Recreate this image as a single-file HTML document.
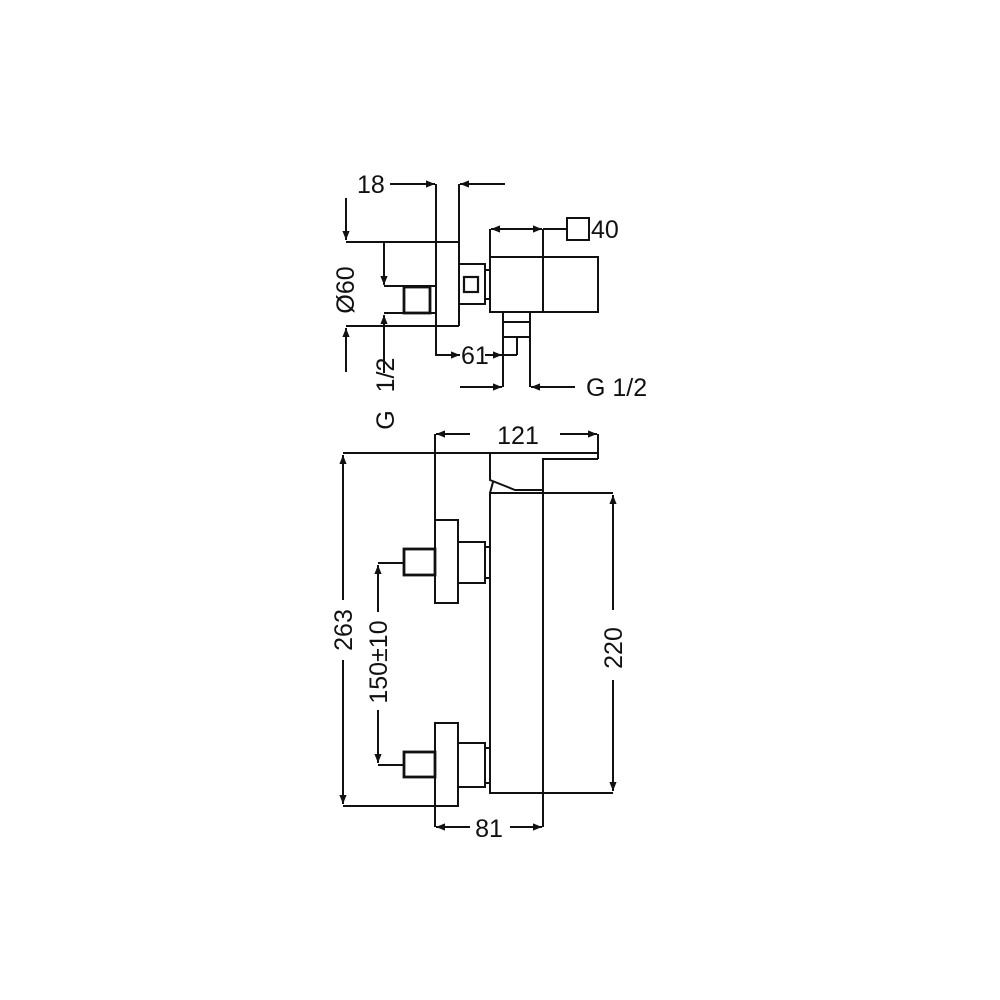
<!DOCTYPE html>
<html><head><style>html,body{margin:0;padding:0;background:#fff}svg{display:block}</style></head><body>
<svg width="1000" height="1000" viewBox="0 0 1000 1000" xmlns="http://www.w3.org/2000/svg">
<defs>
<marker id="a" viewBox="0 0 10 10" refX="10" refY="5" markerWidth="16" markerHeight="9" markerUnits="userSpaceOnUse" orient="auto-start-reverse"><path d="M0,1 L10,5 L0,9 Z" fill="#111"/></marker>
</defs>
<g stroke="#111" stroke-width="2" fill="none">
<!-- TOP VIEW -->
<line x1="390" y1="184" x2="435" y2="184" marker-end="url(#a)"/>
<line x1="505" y1="184" x2="460" y2="184" marker-end="url(#a)"/>
<polyline points="436,184 436,355 460,355"/>
<line x1="436" y1="355" x2="460" y2="355" marker-end="url(#a)"/>
<line x1="459" y1="184" x2="459" y2="326"/>
<line x1="346" y1="242" x2="459" y2="242"/>
<line x1="346" y1="326" x2="459" y2="326"/>
<line x1="346" y1="198" x2="346" y2="240" marker-end="url(#a)"/>
<line x1="346" y1="372" x2="346" y2="328" marker-end="url(#a)"/>
<line x1="384" y1="242" x2="384" y2="285" marker-end="url(#a)"/>
<line x1="384" y1="286" x2="436" y2="286"/>
<line x1="384" y1="313" x2="436" y2="313"/>
<line x1="384" y1="373" x2="384" y2="315" marker-end="url(#a)"/>
<rect x="404" y="287" width="26" height="26" stroke-width="2.8"/>
<rect x="459" y="264" width="26" height="40"/>
<rect x="464" y="277" width="14" height="15" stroke-width="2.2"/>
<rect x="485" y="270" width="5" height="29"/>
<rect x="490" y="257" width="108" height="55"/>
<line x1="543" y1="229" x2="543" y2="312"/>
<line x1="490" y1="229" x2="490" y2="257"/>
<line x1="516" y1="229" x2="491" y2="229" marker-end="url(#a)"/>
<line x1="516" y1="229" x2="542" y2="229" marker-end="url(#a)"/>
<line x1="543" y1="229" x2="567" y2="229"/>
<rect x="567" y="218" width="22" height="22"/>
<rect x="503" y="312" width="27" height="25"/>
<line x1="503" y1="322" x2="530" y2="322"/>
<line x1="503" y1="337" x2="503" y2="387"/>
<line x1="530" y1="337" x2="530" y2="387"/>
<line x1="517" y1="337" x2="517" y2="355"/>
<line x1="517" y1="355" x2="503" y2="355"/>
<line x1="485" y1="355" x2="502" y2="355" marker-end="url(#a)"/>
<line x1="460" y1="387" x2="502" y2="387" marker-end="url(#a)"/>
<line x1="575" y1="387" x2="531" y2="387" marker-end="url(#a)"/>
<!-- FRONT VIEW -->
<line x1="470" y1="434" x2="436" y2="434" marker-end="url(#a)"/>
<line x1="560" y1="434" x2="597" y2="434" marker-end="url(#a)"/>
<line x1="435" y1="434" x2="435" y2="520"/>
<line x1="598" y1="434" x2="598" y2="459"/>
<line x1="343" y1="453" x2="598" y2="453"/>
<polyline points="598,459 543,459 543,493"/>
<polyline points="490,453 490,480 515,490 543,490"/>
<path d="M493,482 L490,493"/>
<rect x="490" y="493" width="53" height="300"/>
<line x1="543" y1="493" x2="613" y2="493"/>
<line x1="490" y1="793" x2="613" y2="793"/>
<line x1="613" y1="610" x2="613" y2="495" marker-end="url(#a)"/>
<line x1="613" y1="680" x2="613" y2="791" marker-end="url(#a)"/>
<line x1="343" y1="600" x2="343" y2="455" marker-end="url(#a)"/>
<line x1="343" y1="660" x2="343" y2="804" marker-end="url(#a)"/>
<line x1="343" y1="806" x2="458" y2="806"/>
<rect x="435" y="520" width="23" height="83"/>
<rect x="458" y="542" width="27" height="41"/>
<rect x="485" y="547" width="5" height="31"/>
<rect x="404" y="549" width="31" height="26" stroke-width="2.8"/>
<rect x="435" y="723" width="23" height="83"/>
<rect x="458" y="743" width="27" height="44"/>
<rect x="485" y="748" width="5" height="35"/>
<rect x="404" y="752" width="31" height="25" stroke-width="2.8"/>
<line x1="378" y1="563" x2="404" y2="563"/>
<line x1="378" y1="765" x2="404" y2="765"/>
<line x1="378" y1="612" x2="378" y2="565" marker-end="url(#a)"/>
<line x1="378" y1="710" x2="378" y2="763" marker-end="url(#a)"/>
<line x1="435" y1="806" x2="435" y2="827"/>
<line x1="543" y1="793" x2="543" y2="827"/>
<line x1="470" y1="827" x2="436" y2="827" marker-end="url(#a)"/>
<line x1="510" y1="827" x2="542" y2="827" marker-end="url(#a)"/>
</g>
<g font-family="Liberation Sans, sans-serif" font-size="25" fill="#111">
<text x="357" y="193">18</text>
<text x="591" y="238">40</text>
<text x="461" y="364">61</text>
<text x="586" y="396">G 1/2</text>
<text x="518" y="444" text-anchor="middle">121</text>
<text x="489" y="837" text-anchor="middle">81</text>
<text transform="translate(354,290) rotate(-90)" text-anchor="middle">Ø60</text>
<text transform="translate(394,375) rotate(-90)" text-anchor="middle">1/2</text>
<text transform="translate(394,420) rotate(-90)" text-anchor="middle">G</text>
<text transform="translate(352,630) rotate(-90)" text-anchor="middle">263</text>
<text transform="translate(387,662) rotate(-90)" text-anchor="middle">150±10</text>
<text transform="translate(622,648) rotate(-90)" text-anchor="middle">220</text>
</g>
</svg>
</body></html>
